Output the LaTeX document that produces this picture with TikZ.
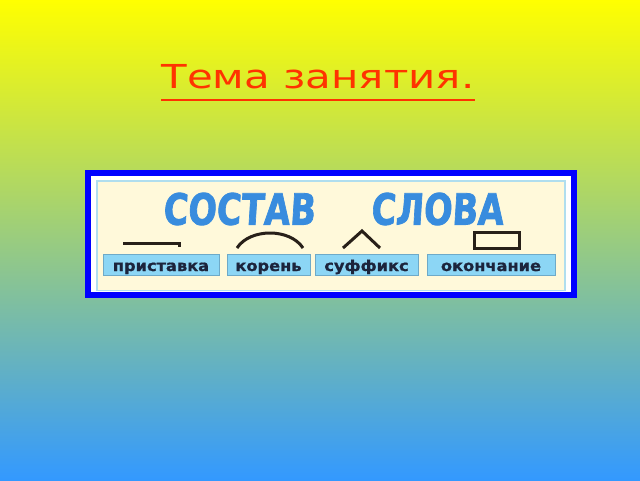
\documentclass[tikz,border=0pt]{standalone}
\usepackage{fontspec}
\setmainfont{DejaVu Sans}
\newfontfamily\labfont[BoldFeatures={FakeBold=1}]{DejaVu Sans}
\newfontfamily\bigfont[BoldFeatures={FakeBold=2,FakeSlant=0.08}]{DejaVu Sans}
\definecolor{bgblue}{RGB}{51,153,255}
\definecolor{titlered}{RGB}{255,51,0}
\definecolor{frameblue}{RGB}{0,0,255}
\definecolor{panelcream}{RGB}{255,249,218}
\definecolor{panelline}{RGB}{176,222,238}
\definecolor{wordblue}{RGB}{56,140,222}
\definecolor{labfill}{RGB}{140,214,245}
\definecolor{labedge}{RGB}{110,170,200}
\definecolor{labtext}{RGB}{28,36,60}
\definecolor{symcol}{RGB}{40,32,24}
\tikzset{
  lab/.style={draw=labedge, line width=1pt, fill=labfill, minimum height=21pt, inner sep=0pt, text height=13pt, text depth=0pt, text=labtext, font=\labfont\bfseries\fontsize{15}{16}\selectfont},
  bigword/.style={text=wordblue, inner sep=0pt, font=\bigfont\bfseries\fontsize{43}{46}\selectfont},
  sym/.style={draw=symcol, line width=3pt}
}
\begin{document}
\begin{tikzpicture}[x=1pt,y=-1pt]
\useasboundingbox (0,0) rectangle (640,480);
\shade[top color=yellow, bottom color=bgblue] (0,0) rectangle (640,480);
% title
\node[anchor=base, inner sep=0pt, text=titlered, font=\fontsize{33}{36}\selectfont] (title) at (318,88.5) {\scalebox{1.27}[1]{Тема занятия.}};
\draw[titlered, line width=2pt] ([yshift=-11pt]title.base west) -- ([yshift=-11pt]title.base east);
% frame
\fill[frameblue] (85,170) rectangle (577,298);
\fill[white] (91,176) rectangle (571,292);
\fill[panelline] (96,180) rectangle (566,291);
\fill[panelcream] (98,182) rectangle (564,290);
% words
\node[bigword] (w1) at (239,209) {\scalebox{0.78}[1]{СОСТАВ}};
\node[bigword] (w2) at (437,209) {\scalebox{0.78}[1]{СЛОВА}};
% symbols
\draw[sym] (123,243) -- (179,243) -- (179,247);
\draw[sym] (237,248) .. controls (250,228) and (290,228) .. (303,248);
\draw[sym, line join=miter] (343,248) -- (362,231) -- (380,248);
\draw[sym] (474,232) rectangle (519,248);
% labels
\node[lab, minimum width=116pt] (l1) at (161,264.5) {\scalebox{1.08}[1]{приставка}};
\node[lab, minimum width=83pt] (l2) at (268.5,264.5) {\scalebox{1.08}[1]{корень}};
\node[lab, minimum width=103pt] (l3) at (366.5,264.5) {\scalebox{1.08}[1]{суффикс}};
\node[lab, minimum width=128pt] (l4) at (491,264.5) {\scalebox{1.08}[1]{окончание}};
\end{tikzpicture}
\end{document}
